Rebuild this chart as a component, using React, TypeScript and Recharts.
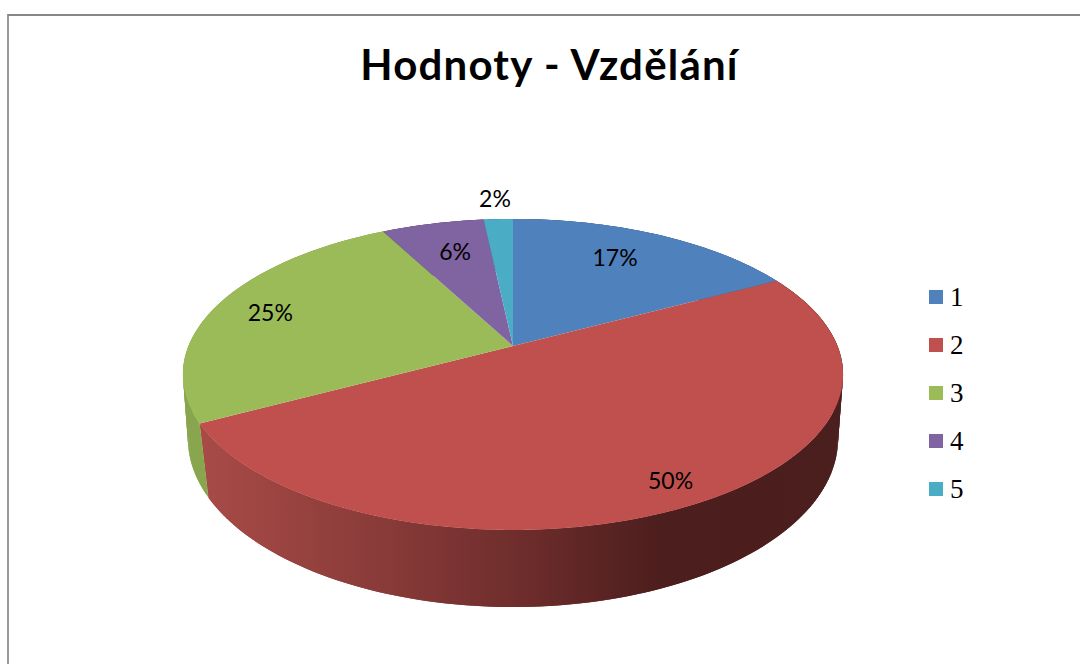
import { Legend, Pie, PieChart } from "recharts";

const categories = ["1", "2", "3", "4", "5"];
const shares = [17.2, 50.0, 25.1, 6.0, 1.7];
const topColors = ["#4f81bd", "#c0504d", "#9bbb59", "#8064a2", "#4bacc6"];
const wallColors = ["#3a5f8c", "url(#redWall)", "#89a64e", "#5f4a78", "#378196"];
const labelRadii = [0.75, 0.87, 0.81, 0.74, 1.2];
const labelNudgeX = [-10, 3, -2, 4, -1];
const labelNudgeY = [-3, 0, 0, -1, 0];

const rows = categories.map((name, i) => ({
  name,
  value: shares[i],
  fill: topColors[i],
}));

// the disc is a tilted circle, so a slice angle maps through a perspective divide
const tilt = 0.183;
const baseTwist = 2;
const topDisc = { cx: 513, cy: 346, a: 324.5, b: 150.3 };
const baseDisc = { cx: 513, cy: 408, a: 319.6, b: 162.6 };

const project = (disc: typeof topDisc, angle: number, r = 1) => {
  const t = ((90 - angle) * Math.PI) / 180;
  const u = r * Math.sin(t);
  const v = r * Math.cos(t);
  const d = 1 + tilt * v;
  return [disc.cx + (disc.a * u) / d, disc.cy - (disc.b * v) / d];
};

const arcPoints = (disc: typeof topDisc, from: number, to: number, twist = 0) => {
  const steps = Math.max(2, Math.ceil(Math.abs(from - to)));
  const pts = [];
  for (let i = 0; i <= steps; i++) {
    pts.push(project(disc, from + ((to - from) * i) / steps + twist));
  }
  return pts;
};

const toPath = (pts: number[][]) =>
  "M" + pts.map((p) => `${p[0].toFixed(2)},${p[1].toFixed(2)}`).join("L") + "Z";

const TopSlice = (props: any) => {
  const pts = [
    [topDisc.cx, topDisc.cy],
    ...arcPoints(topDisc, props.startAngle, props.endAngle),
  ];
  return <path d={toPath(pts)} fill={props.fill} />;
};

// one overlapping quad per step, so the outer silhouette of the wall gets filled too
const WallSlice = (props: any) => {
  const top = arcPoints(topDisc, props.startAngle, props.endAngle);
  const base = arcPoints(baseDisc, props.startAngle, props.endAngle, baseTwist);
  const quads = [];
  for (let i = 0; i < top.length - 1; i++) {
    const j = Math.min(i + 2, top.length - 1);
    quads.push(toPath([top[i], top[j], base[j], base[i]]));
  }
  return (
    <g>
      {quads.map((d) => (
        <path key={d} d={d} fill={wallColors[props.index]} />
      ))}
    </g>
  );
};

const SliceLabel = (props: any) => {
  const [x, y] = project(topDisc, props.midAngle, labelRadii[props.index]);
  return (
    <text
      x={x + labelNudgeX[props.index]}
      y={y + labelNudgeY[props.index]}
      textAnchor="middle"
      dominantBaseline="central"
      fontFamily="Lato"
      fontSize={23}
      fill="#000"
    >
      {`${Math.round(props.value)}%`}
    </text>
  );
};

// both pies report legend items, keep each category once
const LegendList = ({ payload }: any) => {
  const items = (payload || []).filter(
    (item: any, i: number, all: any[]) =>
      all.findIndex((other) => other.value === item.value) === i,
  );
  return (
    <div>
      {items.map((item: any) => (
        <div
          key={item.value}
          style={{ display: "flex", alignItems: "center", height: 48 }}
        >
          <span
            style={{
              width: 14,
              height: 14,
              background: item.color,
              marginRight: 7,
            }}
          />
          <span
            style={{
              fontFamily: "Liberation Serif",
              fontSize: 27,
              color: "#000",
            }}
          >
            {item.value}
          </span>
        </div>
      ))}
    </div>
  );
};

export default function App() {
  return (
    <div
      style={{
        position: "absolute",
        left: 0,
        top: 0,
        width: 1080,
        height: 664,
        background: "#fff",
        overflow: "hidden",
      }}
    >
      <div
        style={{
          position: "absolute",
          left: 7,
          top: 14,
          width: 1080,
          height: 660,
          borderLeft: "2px solid #999",
          borderTop: "2px solid #868686",
        }}
      />
      <PieChart
        width={1080}
        height={664}
        style={{ position: "absolute", left: 0, top: 0 }}
      >
        <defs>
          <linearGradient
            id="redWall"
            gradientUnits="userSpaceOnUse"
            x1={200}
            y1={0}
            x2={840}
            y2={0}
          >
            <stop offset="0" stopColor="#a84b47" />
            <stop offset="0.3" stopColor="#873a38" />
            <stop offset="0.5" stopColor="#6e2d2c" />
            <stop offset="0.72" stopColor="#4c1e1d" />
            <stop offset="1" stopColor="#4b1f1e" />
          </linearGradient>
        </defs>
        <text
          x={549.5}
          y={80}
          textAnchor="middle"
          fontFamily="Lato"
          fontWeight={700}
          fontSize={42}
          letterSpacing={1.2}
          fill="#000"
        >
          Hodnoty - Vzdělání
        </text>
        <Pie
          data={rows}
          dataKey="value"
          nameKey="name"
          cx={513}
          cy={346}
          outerRadius={150}
          startAngle={90}
          endAngle={-270}
          legendType="none"
          shape={WallSlice}
          isAnimationActive={false}
        />
        <Pie
          data={rows}
          dataKey="value"
          nameKey="name"
          cx={513}
          cy={346}
          outerRadius={150}
          startAngle={90}
          endAngle={-270}
          shape={TopSlice}
          label={SliceLabel}
          labelLine={false}
          isAnimationActive={false}
        />
        <Legend
          layout="vertical"
          align="right"
          verticalAlign="top"
          content={LegendList}
          wrapperStyle={{ left: 929, top: 273, width: 100 }}
        />
      </PieChart>
    </div>
  );
}
